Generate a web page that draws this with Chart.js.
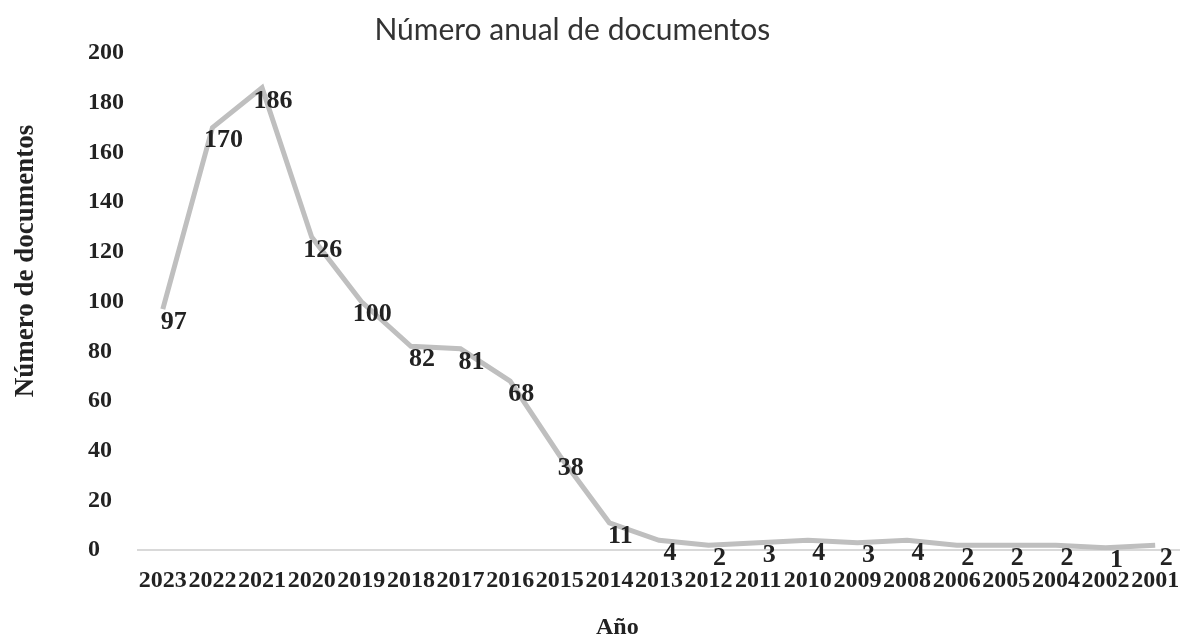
<!DOCTYPE html>
<html>
<head>
<meta charset="utf-8">
<script src="https://cdn.jsdelivr.net/npm/chart.js@4.4.1/dist/chart.umd.min.js"></script>
<style>
  html, body { margin: 0; padding: 0; background: #fff; }
  #wrap { width: 1180px; height: 638px; }
</style>
</head>
<body>
<div id="wrap"><canvas id="docsChart"></canvas></div>
<script>
const years = ['2023', '2022', '2021', '2020', '2019', '2018', '2017', '2016', '2015', '2014', '2013',
               '2012', '2011', '2010', '2009', '2008', '2006', '2005', '2004', '2002', '2001'];
const docCounts = [97, 170, 186, 126, 100, 82, 81, 68, 38, 11, 4, 2, 3, 4, 3, 4, 2, 2, 2, 1, 2];
const yTicks = [0, 20, 40, 60, 80, 100, 120, 140, 160, 180, 200];

const serif = '"Liberation Serif", "Times New Roman", serif';

// value labels next to each point, the chart title and the two axis titles
const extraText = {
    id: 'extraText',
    afterDatasetsDraw(chart) {
        const ctx = chart.ctx;
        const meta = chart.getDatasetMeta(0);
        const area = chart.chartArea;
        ctx.save();
        ctx.textAlign = 'center';
        ctx.textBaseline = 'middle';

        ctx.fillStyle = '#222';
        ctx.font = 'bold 26px ' + serif;
        meta.data.forEach(function (pt, i) {
            ctx.fillText(docCounts[i], pt.x + 11, pt.y + 13);
        });

        // title sits a little left of the canvas centre in the original
        ctx.fillStyle = '#333';
        ctx.font = '30px Lato, "Open Sans", sans-serif';
        ctx.fillText('Número anual de documentos', chart.width * 0.485, 30);

        // x axis title
        ctx.fillStyle = '#222';
        ctx.font = 'bold 24px ' + serif;
        ctx.fillText('Año', area.left + (area.right - area.left) * 0.46, chart.height - 10);

        // y axis title
        ctx.font = 'bold 27px ' + serif;
        ctx.translate(26, area.top + 208);
        ctx.rotate(-Math.PI / 2);
        ctx.fillText('Número de documentos', 0, 0);
        ctx.restore();
    }
};

window.onload = function () {
    const ctx = document.getElementById('docsChart').getContext('2d');
    new Chart(ctx, {
        type: 'line',
        data: {
            labels: years,
            datasets: [{
                label: 'Documentos',
                data: docCounts,
                borderColor: '#bfbfbf',
                borderWidth: 5,
                pointRadius: 0,
                tension: 0,
                fill: false
            }]
        },
        options: {
            responsive: true,
            maintainAspectRatio: false,
            animation: false,
            layout: { padding: { left: 88, right: 0, top: 53, bottom: 41 } },
            plugins: {
                legend: { display: false },
                tooltip: { enabled: false },
                title: { display: false }
            },
            scales: {
                x: {
                    offset: true,
                    afterFit: function (axis) {
                        axis.paddingLeft = 0;
                        axis.paddingRight = 0;
                    },
                    grid: {
                        display: true,
                        drawOnChartArea: false,
                        drawTicks: true,
                        tickLength: 14,
                        tickColor: 'rgba(0,0,0,0)'
                    },
                    border: { display: true, color: '#d9d9d9', width: 2 },
                    ticks: {
                        color: '#222',
                        autoSkip: false,
                        maxRotation: 0,
                        padding: 2,
                        font: { family: serif, size: 24, weight: 'bold' }
                    }
                },
                y: {
                    min: 0,
                    max: 200,
                    afterBuildTicks: function (axis) {
                        axis.ticks = yTicks.map(function (v) { return { value: v }; });
                    },
                    afterFit: function (axis) {
                        axis.width = 50;
                    },
                    grid: { display: false, drawTicks: false },
                    border: { display: false },
                    ticks: {
                        color: '#222',
                        crossAlign: 'far',
                        padding: 13,
                        font: { family: serif, size: 24, weight: 'bold' }
                    }
                }
            }
        },
        plugins: [extraText]
    });
};
</script>
</body>
</html>
